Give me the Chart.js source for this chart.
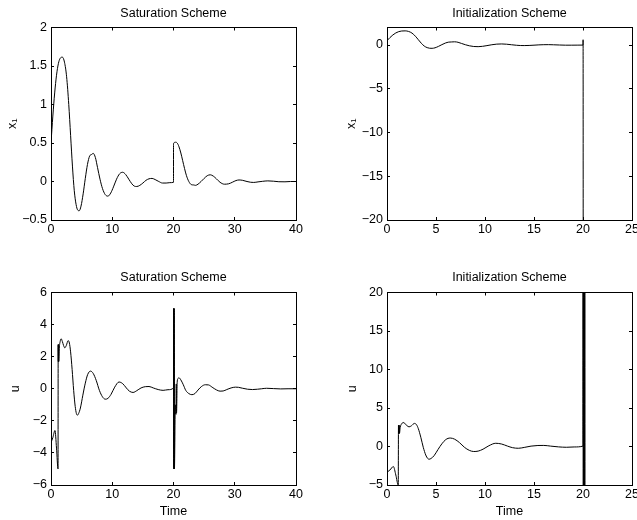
<!DOCTYPE html>
<html><head><meta charset="utf-8">
<script src="https://cdn.jsdelivr.net/npm/chart.js@4.4.1/dist/chart.umd.min.js"></script>
<style>
html,body{margin:0;padding:0;background:#fff;overflow:hidden;width:637px;height:520px;position:relative;}
canvas{position:absolute;}
</style></head><body>
<canvas id="c1" width="318" height="260" style="left:0;top:0"></canvas>
<canvas id="c2" width="318" height="260" style="left:336px;top:0"></canvas>
<canvas id="c3" width="318" height="260" style="left:0;top:260px"></canvas>
<canvas id="c4" width="318" height="260" style="left:336px;top:260px"></canvas>
<script>
// ---- data ----
const x1PreT = [0, 0.3, 0.6, 0.9, 1.2, 1.5, 1.85, 2.2, 2.55, 2.9, 3.2, 3.5, 3.8, 4.1, 4.35, 4.6, 4.9, 5.25, 5.6, 5.95, 6.3, 6.6, 6.9, 7.25, 7.6, 8.0, 8.4, 8.85, 9.3, 9.75, 10.2, 10.7, 11.2, 11.7, 12.2, 12.7, 13.2, 13.6, 14.0, 14.5, 15.0, 15.5, 16.0, 16.5, 17.0, 17.6, 18.2, 18.8, 19.4, 20.0];
const x1PreV = [0.5, 0.85, 1.15, 1.38, 1.53, 1.6, 1.615, 1.55, 1.36, 1.0, 0.6, 0.2, -0.12, -0.3, -0.37, -0.38, -0.32, -0.16, 0.04, 0.22, 0.33, 0.35, 0.365, 0.31, 0.18, 0.03, -0.09, -0.17, -0.19, -0.15, -0.07, 0.03, 0.1, 0.12, 0.09, 0.03, -0.03, -0.06, -0.065, -0.05, -0.02, 0.015, 0.035, 0.04, 0.025, 0.0, -0.02, -0.02, -0.015, -0.01];
const x1SatPostT = [20.001, 20.3, 20.6, 20.9, 21.2, 21.5, 21.8, 22.1, 22.5, 22.9, 23.3, 23.6, 24.0, 24.5, 25.0, 25.5, 26.0, 26.5, 27.0, 27.6, 28.3, 29.0, 29.6, 30.2, 30.7, 31.3, 32.0, 32.6, 33.1, 33.8, 34.5, 35.4, 36.3, 37.2, 38.2, 39.1, 40];
const x1SatPostV = [0.49, 0.51, 0.5, 0.45, 0.37, 0.27, 0.17, 0.08, 0.0, -0.04, -0.045, -0.05, -0.035, 0.0, 0.04, 0.075, 0.087, 0.07, 0.035, -0.01, -0.035, -0.03, -0.01, 0.012, 0.02, 0.015, 0.0, -0.01, -0.012, -0.005, 0.002, 0.008, 0.004, -0.003, -0.004, 0.0, 0.0];
const x1InitPostT = [20.01, 20.03];
const x1InitPostV = [0.6, -60];

const uPreT = [0, 0.3, 0.65, 0.9, 1.15, 1.17, 1.19, 1.21, 1.23, 1.25, 1.27, 1.35, 1.5, 1.65, 1.85, 2.05, 2.25, 2.5, 2.8, 3.0, 3.2, 3.45, 3.7, 3.95, 4.15, 4.3, 4.5, 4.8, 5.2, 5.6, 6.0, 6.45, 6.9, 7.4, 7.9, 8.4, 8.85, 9.3, 9.8, 10.4, 11.1, 11.7, 12.3, 12.8, 13.4, 14.0, 14.7, 15.4, 16.0, 16.7, 17.5, 18.3, 19.1, 20.0];
const uPreV = [-3.35, -3.05, -2.6, -3.7, -5.0, 2.75, 1.7, 2.75, 1.7, 2.75, 1.7, 2.5, 2.95, 3.12, 2.95, 2.7, 2.55, 2.7, 3.0, 2.85, 2.3, 1.2, -0.1, -1.1, -1.55, -1.65, -1.55, -1.2, -0.4, 0.35, 0.9, 1.1, 0.95, 0.5, -0.1, -0.5, -0.65, -0.6, -0.35, 0.1, 0.42, 0.32, 0.05, -0.15, -0.23, -0.12, 0.05, 0.13, 0.14, 0.05, -0.05, -0.1, -0.06, 0.05];
const uSatPostT = [20.002, 20.03, 20.06, 20.09, 20.12, 20.15, 20.3, 20.4, 20.45, 20.5, 20.6, 20.75, 20.9, 21.2, 21.6, 22.0, 22.5, 23.0, 23.5, 24.0, 24.6, 25.2, 25.7, 26.3, 27.0, 27.6, 28.1, 28.7, 29.4, 30.1, 30.6, 31.3, 32.1, 32.9, 33.7, 34.4, 35.2, 36.3, 37.5, 38.7, 40];
const uSatPostV = [5, -5, 5, -5, 5, -5, -1.0, -1.6, 0.3, -1.5, 0.4, 0.65, 0.68, 0.55, 0.25, -0.1, -0.3, -0.37, -0.3, -0.08, 0.15, 0.25, 0.24, 0.1, -0.07, -0.15, -0.14, -0.05, 0.05, 0.1, 0.09, 0.03, -0.03, -0.05, -0.03, 0.0, 0.03, 0.01, -0.01, 0.0, 0.0];
const uInitPostT = [20.002, 20.03, 20.06, 20.09, 20.12, 20.15, 20.18, 20.21];
const uInitPostV = [60, -60, 60, -60, 60, -60, 60, -60];

const xTicksSat = [0, 10, 20, 30, 40];
const xTicksInit = [0, 5, 10, 15, 20, 25];
const yTicksX1Sat = [-0.5, 0, 0.5, 1, 1.5, 2];
const yTicksX1Init = [-20, -15, -10, -5, 0];
const yTicksUSat = [-6, -4, -2, 0, 2, 4, 6];
const yTicksUInit = [-5, 0, 5, 10, 15, 20];

const titleSat = 'Saturation Scheme';
const titleInit = 'Initialization Scheme';

// ---- helpers ----
Chart.defaults.font.family = "'Liberation Sans', Arial, Helvetica, sans-serif";
Chart.defaults.color = '#000';

function pts(ts, vs) { return ts.map((t, i) => ({ x: t, y: vs[i] })); }
function fmt(v) { return v < 0 ? '\u2212' + String(-v) : String(v); }

function makeChart(id, o) {
  const grid = { drawOnChartArea: false, drawTicks: true, tickLength: -3, color: '#000', lineWidth: 1 };
  const border = { display: true, color: '#000', width: 1 };
  const setTicks = arr => s => { s.ticks = arr.map(v => ({ value: v })); };
  const tickFont = { size: 12.5, lineHeight: 1 };
  return new Chart(document.getElementById(id), {
    type: 'line',
    data: { datasets: [{ data: o.data, borderColor: '#000', borderWidth: 1, pointRadius: 0, fill: false, cubicInterpolationMode: 'monotone' }] },
    options: {
      responsive: false, animation: false, devicePixelRatio: 1,
      layout: { padding: { left: 0, right: 22, top: 0, bottom: 0 } },
      plugins: {
        legend: { display: false }, tooltip: { enabled: false },
        title: { display: true, text: o.title, fullSize: false, color: '#000', font: { size: 12.5, lineHeight: 1, weight: 'normal' }, padding: o.titlePad }
      },
      scales: {
        x: {
          type: 'linear', position: 'bottom', min: o.xMin, max: o.xMax,
          afterBuildTicks: setTicks(o.xTicks),
          ticks: { font: tickFont, padding: 6, maxRotation: 0, autoSkip: false, callback: fmt },
          grid: grid, border: border,
          afterFit: s => { s.height = o.xH; },
          title: { display: !!o.xTitle, text: o.xTitle || '', font: tickFont, padding: { top: 0, bottom: 2 } }
        },
        x2: {
          type: 'linear', position: 'top', min: o.xMin, max: o.xMax,
          afterBuildTicks: setTicks(o.xTicks),
          ticks: { display: false }, grid: grid, border: border,
          afterFit: s => { s.height = 0; }
        },
        y: {
          type: 'linear', position: 'left', min: o.yMin, max: o.yMax,
          afterBuildTicks: setTicks(o.yTicks),
          ticks: { font: tickFont, padding: 7, autoSkip: false, callback: fmt },
          grid: grid, border: border,
          afterFit: s => { s.width = 51; },
          title: { display: true, text: o.yTitle, font: tickFont, padding: { top: o.yTP, bottom: 0 } }
        },
        y2: {
          type: 'linear', position: 'right', min: o.yMin, max: o.yMax,
          afterBuildTicks: setTicks(o.yTicks),
          ticks: { display: false }, grid: grid, border: border,
          afterFit: s => { s.width = 0; }
        }
      }
    }
  });
}

makeChart('c1', {
  data: pts(x1PreT.concat(x1SatPostT), x1PreV.concat(x1SatPostV)),
  title: titleSat, titlePad: { top: 7, bottom: 8 }, xH: 40,
  xMin: 0, xMax: 40, xTicks: xTicksSat, yMin: -0.5, yMax: 2, yTicks: yTicksX1Sat,
  yTitle: 'x\u2081', yTP: 6
});
makeChart('c2', {
  data: pts(x1PreT.concat(x1InitPostT), x1PreV.concat(x1InitPostV)),
  title: titleInit, titlePad: { top: 7, bottom: 8 }, xH: 40,
  xMin: 0, xMax: 25, xTicks: xTicksInit, yMin: -20, yMax: 2, yTicks: yTicksX1Init,
  yTitle: 'x\u2081', yTP: 9
});
makeChart('c3', {
  data: pts(uPreT.concat(uSatPostT), uPreV.concat(uSatPostV)),
  title: titleSat, titlePad: { top: 11, bottom: 9 }, xH: 35,
  xMin: 0, xMax: 40, xTicks: xTicksSat, yMin: -6, yMax: 6, yTicks: yTicksUSat,
  yTitle: 'u', yTP: 9, xTitle: 'Time'
});
makeChart('c4', {
  data: pts(uPreT.concat(uInitPostT), uPreV.concat(uInitPostV)),
  title: titleInit, titlePad: { top: 11, bottom: 9 }, xH: 35,
  xMin: 0, xMax: 25, xTicks: xTicksInit, yMin: -5, yMax: 20, yTicks: yTicksUInit,
  yTitle: 'u', yTP: 10, xTitle: 'Time'
});
</script>
</body></html>
